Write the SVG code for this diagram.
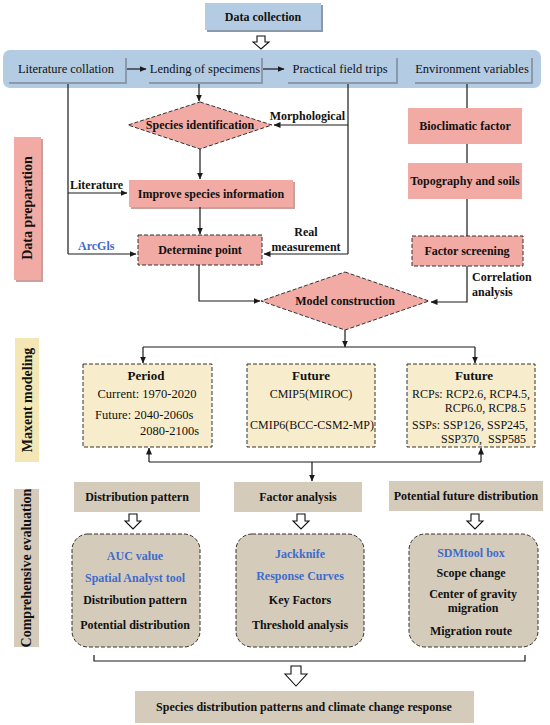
<svg xmlns="http://www.w3.org/2000/svg" width="550" height="725" viewBox="0 0 550 725">
<defs>
<marker id="ah" markerWidth="7" markerHeight="6" refX="6.5" refY="3" orient="auto" markerUnits="userSpaceOnUse"><path d="M0,0 L7,3 L0,6 Z" fill="#1a1a1a"/></marker>
<style>
text{font-family:"Liberation Serif","Times New Roman",serif;fill:#111;}
.b{font-weight:bold;font-size:12px;}
.t{font-size:12.5px;}
.r{font-size:12px;}
.c{text-anchor:middle;}
.blue{fill:#3e6ccc;}
.lab{font-weight:bold;font-size:14px;text-anchor:middle;}
.ttl{font-weight:bold;font-size:13px;text-anchor:middle;}
.pink{fill:#f1aba4;}
.dash{stroke:#333;stroke-width:1;stroke-dasharray:4 2;}
.cream{fill:#f7edcd;}
.grey{fill:#d5cbbb;}
.bluebox{fill:#b4cce3;}
.shadow{fill:#8b9aab;}
.ln{fill:none;stroke:#1a1a1a;stroke-width:1.2;}
.hollow{fill:#fff;stroke:#111;stroke-width:1.1;}
</style>
</defs>
<rect width="550" height="725" fill="#fff"/>

<!-- side labels -->
<g id="lbl-prep"><rect x="16" y="139" width="27" height="143" fill="#c9a09c"/><rect x="14" y="137" width="27" height="143" class="pink"/><text class="lab" transform="translate(32,208) rotate(-90)">Data preparation</text></g>
<g id="lbl-maxent"><rect x="15" y="338" width="24" height="124" fill="#f5e7b5"/><text class="lab" transform="translate(32,400) rotate(-90)">Maxent modeling</text></g>
<g id="lbl-eval"><rect x="14" y="489" width="25" height="158" class="grey"/><text class="lab" transform="translate(31,568) rotate(-90)">Comprehensive evaluation</text></g>

<!-- top -->
<g id="n-datacollection"><rect x="207" y="5" width="116" height="27" class="shadow"/><rect x="205" y="3" width="116" height="27" class="bluebox"/><text class="b c" x="263" y="21">Data collection</text></g>
<g id="band"><rect x="3" y="50" width="538" height="38" rx="7" class="bluebox"/></g>
<g id="n-lit"><rect x="9" y="58" width="118" height="26" class="shadow"/><rect x="7" y="56" width="118" height="26" class="bluebox"/><text class="t c" x="66" y="73">Literature collation</text></g>
<g id="n-lend"><rect x="149" y="58" width="114" height="26" class="shadow"/><rect x="147" y="56" width="114" height="26" class="bluebox"/><text class="t c" x="205" y="73">Lending of specimens</text></g>
<g id="n-prac"><rect x="288" y="58" width="110" height="26" class="shadow"/><rect x="286" y="56" width="110" height="26" class="bluebox"/><text class="t c" x="340" y="73">Practical field trips</text></g>
<g id="n-env"><rect x="415" y="58" width="118" height="26" class="shadow"/><rect x="413" y="56" width="118" height="26" class="bluebox"/><text class="t c" x="472" y="73">Environment variables</text></g>

<!-- data preparation nodes -->
<g id="n-speciesid"><polygon points="200,102 272,125 200,149 128,125" class="pink dash"/><text class="b c" x="200" y="129">Species identification</text></g>
<g id="n-improve"><rect x="131" y="182" width="164" height="27" fill="#c9a09c"/><rect x="129" y="180" width="164" height="27" class="pink"/><text class="b c" x="211" y="198">Improve species information</text></g>
<g id="n-determine"><rect x="138" y="235" width="124" height="30" class="pink dash"/><text class="b c" x="200" y="254">Determine point</text></g>
<g id="n-bioclim"><rect x="408" y="108" width="114" height="36" class="pink"/><text class="b c" x="465" y="130">Bioclimatic factor</text></g>
<g id="n-topo"><rect x="408" y="163" width="114" height="36" class="pink"/><text class="b c" x="465" y="185">Topography and soils</text></g>
<g id="n-screen"><rect x="412" y="236" width="111" height="30" class="pink dash"/><text class="b c" x="467" y="255">Factor screening</text></g>
<g id="n-model"><polygon points="345,272 429,301 345,330 261,301" class="pink dash"/><text class="b c" x="345" y="305">Model construction</text></g>

<!-- maxent boxes -->
<g id="n-period"><rect x="83" y="364" width="129" height="83" class="cream dash"/>
<text class="ttl" x="146" y="380">Period</text>
<text class="t c" x="147" y="398">Current: 1970-2020</text>
<text class="t" x="95" y="419">Future: 2040-2060s</text>
<text class="t" x="199" y="435" text-anchor="end">2080-2100s</text></g>
<g id="n-future1"><rect x="247" y="364" width="128" height="83" class="cream dash"/>
<text class="ttl" x="311" y="380">Future</text>
<text class="r c" x="311" y="398">CMIP5(MIROC)</text>
<text class="r c" x="312" y="429">CMIP6(BCC-CSM2-MP)</text></g>
<g id="n-future2"><rect x="407" y="364" width="128" height="83" class="cream dash"/>
<text class="ttl" x="474" y="380">Future</text>
<text class="r" x="412" y="398">RCPs: RCP2.6, RCP4.5,</text>
<text class="r" x="526" y="412" text-anchor="end">RCP6.0, RCP8.5</text>
<text class="r" x="412" y="429">SSPs: SSP126, SSP245,</text>
<text class="r" x="526" y="443" text-anchor="end" xml:space="preserve">SSP370,  SSP585</text></g>

<!-- evaluation -->
<g id="n-distpat"><rect x="74" y="482" width="126" height="30" class="grey"/><text class="b c" x="137" y="501">Distribution pattern</text></g>
<g id="n-factor"><rect x="234" y="482" width="128" height="30" class="grey"/><text class="b c" x="298" y="501">Factor analysis</text></g>
<g id="n-potential"><rect x="389" y="481" width="154" height="30" class="grey"/><text class="b c" x="466" y="500">Potential future distribution</text></g>

<g id="n-eval1"><rect x="72" y="534" width="128" height="113" rx="16" class="grey dash"/>
<text class="b c blue" x="135" y="560">AUC value</text>
<text class="b c blue" x="135" y="582">Spatial Analyst tool</text>
<text class="b c" x="135" y="604">Distribution pattern</text>
<text class="b c" x="135" y="629">Potential distribution</text></g>
<g id="n-eval2"><rect x="236" y="534" width="128" height="113" rx="16" class="grey dash"/>
<text class="b c blue" x="300" y="558">Jackknife</text>
<text class="b c blue" x="300" y="580">Response Curves</text>
<text class="b c" x="300" y="604">Key Factors</text>
<text class="b c" x="300" y="629">Threshold analysis</text></g>
<g id="n-eval3"><rect x="409" y="534" width="129" height="113" rx="16" class="grey dash"/>
<text class="b c blue" x="471" y="557">SDMtool box</text>
<text class="b c" x="471" y="577">Scope change</text>
<text class="b c" x="473" y="598">Center of gravity</text>
<text class="b c" x="473" y="612">migration</text>
<text class="b c" x="471" y="635">Migration route</text></g>

<g id="n-final"><rect x="135" y="691" width="339" height="32" class="grey"/><text class="b c" x="304" y="711">Species distribution patterns and climate change response</text></g>

<!-- connectors -->
<g id="connectors">
<path class="hollow" d="M257,36 H265 V42 H269 L261,49 L253,42 H257 Z"/>
<path class="ln" marker-end="url(#ah)" d="M127,69 H146"/>
<path class="ln" marker-end="url(#ah)" d="M263,69 H284"/>
<path class="ln" d="M68,84 V254"/>
<path class="ln" marker-end="url(#ah)" d="M68,193 H127"/>
<path class="ln" marker-end="url(#ah)" d="M68,254 H136"/>
<path class="ln" marker-end="url(#ah)" d="M199,84 V101"/>
<path class="ln" d="M348,84 V254"/>
<path class="ln" marker-end="url(#ah)" d="M348,125 H274"/>
<path class="ln" marker-end="url(#ah)" d="M348,254 H264"/>
<path class="ln" marker-end="url(#ah)" d="M200,149 V179"/>
<path class="ln" marker-end="url(#ah)" d="M200,207 V234"/>
<path class="ln" marker-end="url(#ah)" d="M199,265 V301 H260"/>
<path class="ln" d="M467,84 V108 M467,144 V163 M467,199 V236"/>
<path class="ln" marker-end="url(#ah)" d="M467,266 V302 H431"/>
<path class="ln" marker-end="url(#ah)" d="M345,330 V347"/>
<path class="ln" d="M143,347 H475"/>
<path class="ln" marker-end="url(#ah)" d="M143,347 V363"/>
<path class="ln" marker-end="url(#ah)" d="M475,347 V363"/>
<path class="ln" d="M149,462 H481"/>
<path class="ln" marker-end="url(#ah)" d="M149,462 V448"/>
<path class="ln" marker-end="url(#ah)" d="M481,462 V448"/>
<path class="ln" marker-end="url(#ah)" d="M312,462 V481"/>
<path class="hollow" d="M129,514 H137 V521 H141 L133,529 L125,521 H129 Z"/>
<path class="hollow" d="M297,514 H305 V521 H309 L301,529 L293,521 H297 Z"/>
<path class="hollow" d="M471,514 H479 V521 H483 L475,529 L467,521 H471 Z"/>
<path class="ln" d="M94,655 V661 H525 V655"/>
<path class="hollow" d="M291,666 H301 V674 H307 L296,686 L285,674 H291 Z"/>
</g>

<!-- connector labels -->
<text class="b" x="70" y="189">Literature</text>
<text class="b blue" x="78" y="250">ArcGls</text>
<text class="b" x="345" y="120" text-anchor="end">Morphological</text>
<text class="b c" x="306" y="236">Real</text>
<text class="b c" x="306" y="251">measurement</text>
<text class="b" x="472" y="281">Correlation</text>
<text class="b" x="472" y="296">analysis</text>
</svg>
